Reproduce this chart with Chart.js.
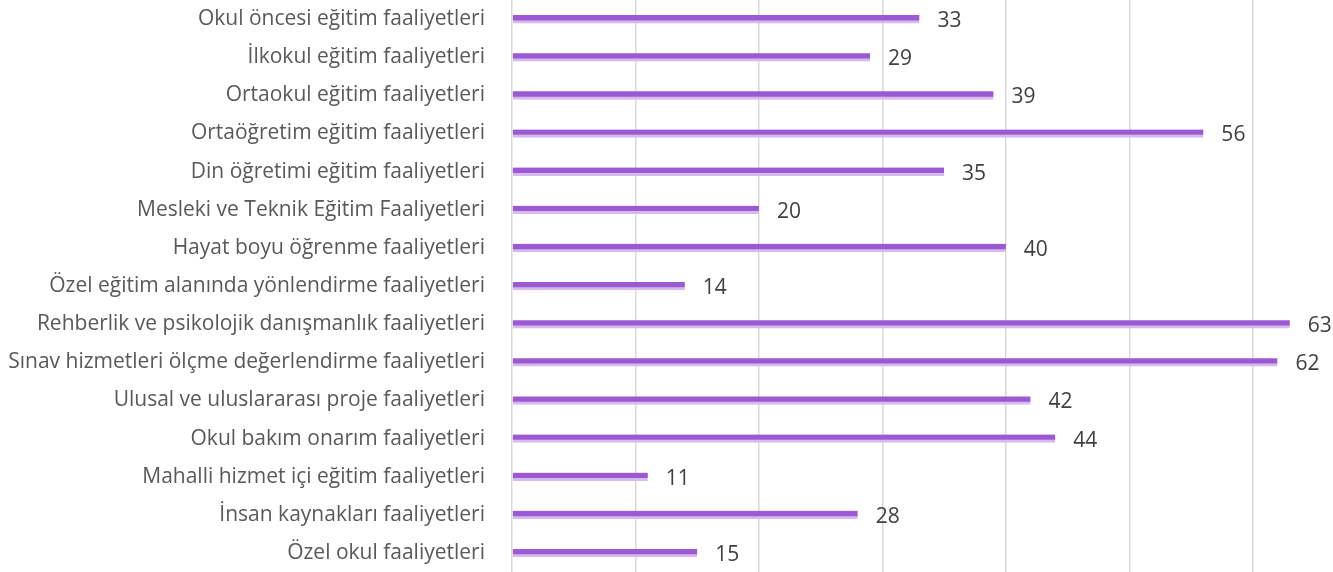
<!DOCTYPE html>
<html>
<head>
<meta charset="utf-8">
<script src="https://cdn.jsdelivr.net/npm/chart.js@4.4.1/dist/chart.umd.min.js"></script>
<style>
  html, body { margin: 0; padding: 0; background: #fff; }
  #kutu { width: 1333px; height: 572px; position: relative; }
</style>
</head>
<body>
<div id="kutu"><canvas id="grafik"></canvas></div>
<script>
const kategoriler = [
    'Okul öncesi eğitim faaliyetleri',
    'İlkokul eğitim faaliyetleri',
    'Ortaokul eğitim faaliyetleri',
    'Ortaöğretim eğitim faaliyetleri',
    'Din öğretimi eğitim faaliyetleri',
    'Mesleki ve Teknik Eğitim Faaliyetleri',
    'Hayat boyu öğrenme faaliyetleri',
    'Özel eğitim alanında yönlendirme faaliyetleri',
    'Rehberlik ve psikolojik danışmanlık faaliyetleri',
    'Sınav hizmetleri ölçme değerlendirme faaliyetleri',
    'Ulusal ve uluslararası proje faaliyetleri',
    'Okul bakım onarım faaliyetleri',
    'Mahalli hizmet içi eğitim faaliyetleri',
    'İnsan kaynakları faaliyetleri',
    'Özel okul faaliyetleri'
];
const degerler = [33, 29, 39, 56, 35, 20, 40, 14, 63, 62, 42, 44, 11, 28, 15];
const eksenAdim = 10;

const etiketEklentisi = {
    id: 'degerEtiketleri',
    afterDatasetsDraw(chart) {
        const ctx = chart.ctx;
        const meta = chart.getDatasetMeta(0);
        ctx.save();
        ctx.font = '21px "Open Sans"';
        ctx.fillStyle = '#404040';
        ctx.textAlign = 'left';
        ctx.textBaseline = 'middle';
        meta.data.forEach((bar, i) => {
            ctx.fillText(String(degerler[i]), bar.x + 18, bar.y + 2);
        });
        ctx.restore();
    }
};

const config = {
    type: 'bar',
    data: {
        labels: kategoriler,
        datasets: [{
            data: degerler,
            backgroundColor: '#9b5ad2',
            borderColor: '#d6b9ef',
            borderWidth: { top: 0, right: 0, bottom: 3, left: 0 },
            borderSkipped: false,
            barThickness: 8
        }]
    },
    options: {
        indexAxis: 'y',
        responsive: true,
        maintainAspectRatio: false,
        animation: false,
        layout: { padding: { top: -3, bottom: -3, left: 0, right: 0 } },
        plugins: {
            legend: { display: false },
            tooltip: { enabled: false }
        },
        scales: {
            x: {
                min: 0,
                max: 66.5,
                ticks: { display: false, stepSize: eksenAdim },
                grid: { color: '#d9d9d9', lineWidth: 1.5, drawTicks: false },
                border: { display: false },
                afterBuildTicks: s => { s.ticks = s.ticks.filter(t => t.value % eksenAdim === 0); },
                afterFit: s => { s.height = 0; s.paddingLeft = 0; s.paddingRight = 0; }
            },
            y: {
                grid: { display: false },
                border: { display: false },
                ticks: {
                    color: '#595959',
                    font: { family: '"Open Sans"', size: 21 },
                    padding: 19,
                    autoSkip: false
                },
                afterFit: s => { s.width = 512; s.paddingTop = 0; s.paddingBottom = 0; }
            }
        }
    },
    plugins: [etiketEklentisi]
};

new Chart(document.getElementById('grafik').getContext('2d'), config);
</script>
</body>
</html>
